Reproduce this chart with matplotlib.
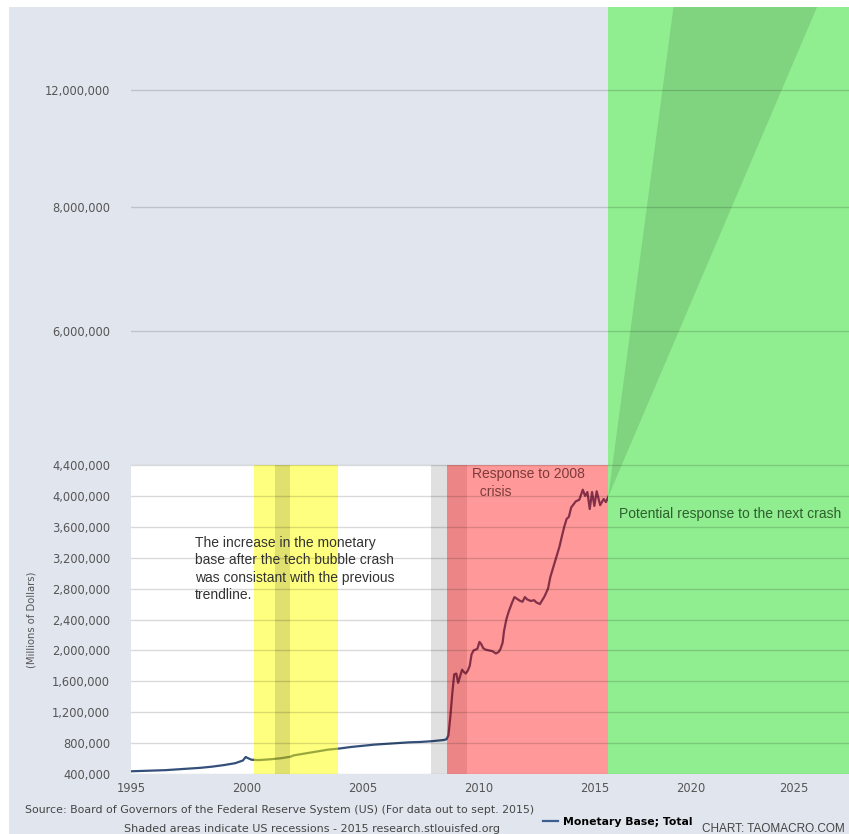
import numpy as np
import matplotlib
matplotlib.use("Agg")
import matplotlib.pyplot as plt
from matplotlib.patches import Rectangle, Polygon
from matplotlib.ticker import FixedLocator, FuncFormatter, NullLocator

# monetary base, millions of dollars
years = [1995.0, 1995.5, 1996.0, 1996.5, 1997.0, 1997.5, 1998.0, 1998.5, 1999.0, 1999.5,
         1999.83, 1999.95, 2000.05, 2000.2, 2000.5, 2001.0, 2001.5, 2001.9, 2002.0, 2002.5,
         2003.0, 2003.5, 2004.0, 2004.5, 2005.0, 2005.5, 2006.0, 2006.5, 2007.0, 2007.5,
         2008.0, 2008.5, 2008.62, 2008.7, 2008.78, 2008.87, 2008.95, 2009.04, 2009.12, 2009.2,
         2009.29, 2009.37, 2009.45, 2009.54, 2009.62, 2009.7, 2009.79, 2009.87, 2009.95, 2010.04,
         2010.12, 2010.2, 2010.3, 2010.45, 2010.6, 2010.75, 2010.87, 2010.95, 2011.04, 2011.1,
         2011.2, 2011.3, 2011.45, 2011.55, 2011.7, 2011.8, 2011.9, 2012.0, 2012.1, 2012.25,
         2012.4, 2012.5, 2012.65, 2012.75, 2012.85, 2013.0, 2013.1, 2013.2, 2013.3, 2013.4,
         2013.5, 2013.6, 2013.7, 2013.8, 2013.9, 2014.0, 2014.2, 2014.35, 2014.5, 2014.6,
         2014.7, 2014.8, 2014.9, 2015.0, 2015.1, 2015.25, 2015.4, 2015.5, 2015.6]
base = [435, 440, 445, 450, 460, 470, 480, 495, 515, 540,
        575, 620, 605, 585, 580, 590, 605, 625, 640, 665,
        690, 715, 730, 750, 765, 780, 790, 800, 810, 815,
        825, 840, 850, 900, 1130, 1450, 1690, 1700, 1580, 1660,
        1750, 1720, 1700, 1740, 1800, 1950, 2000, 2010, 2020, 2110,
        2080, 2030, 2010, 2000, 1990, 1960, 1980, 2020, 2100, 2250,
        2400, 2500, 2620, 2690, 2660, 2640, 2630, 2690, 2660, 2640,
        2650, 2620, 2600, 2650, 2700, 2800, 2950, 3050, 3150, 3250,
        3350, 3480, 3600, 3700, 3730, 3850, 3930, 3950, 4080, 4000,
        4050, 3830, 4050, 3870, 4060, 3880, 3960, 3920, 3990]
base = [b * 1000 for b in base]

# shaded periods
tech_response = (2000.3, 2003.92)
recessions = [(2001.2, 2001.88), (2007.93, 2009.5)]
crisis_response = (2008.62, 2015.6)
next_crash = (2015.6, 2027.7)
wedge_top = (2019.1, 2026.15)

y_ticks = [400000, 800000, 1200000, 1600000, 2000000, 2400000, 2800000, 3200000,
           3600000, 4000000, 4400000, 6000000, 8000000, 12000000]
x_ticks = [1995, 2000, 2005, 2010, 2015, 2020, 2025]

# the picture is pasted together, so both axes are piecewise
x_knots = [1995, 2015.6, 2020, 2025, 2027.7]
x_pix = [0, 477, 559, 662, 717.6]
y_knots = [400000, 4400000, 6000000, 8000000, 12000000, 14840000]
y_pix = [0, 309, 443, 567, 684, 767]

def fwd_x(v):
    return np.interp(v, x_knots, x_pix)

def inv_x(p):
    return np.interp(p, x_pix, x_knots)

def fwd_y(v):
    return np.interp(v, y_knots, y_pix)

def inv_y(p):
    return np.interp(p, y_pix, y_knots)

W, H = 849, 834
fig = plt.figure(figsize=(W / 100, H / 100), dpi=100)
fig.patch.set_facecolor("white")
fig.add_artist(Rectangle((9 / W, 0), 1, (H - 7) / H, transform=fig.transFigure,
                         facecolor="#e1e6ee", edgecolor="none", zorder=-5))

ax = fig.add_axes([131 / W, 60 / H, 718 / W, 767 / H])
ax.set_facecolor("none")
ax.set_xscale("function", functions=(fwd_x, inv_x))
ax.set_yscale("function", functions=(fwd_y, inv_y))
ax.set_xlim(x_knots[0], x_knots[-1])
ax.set_ylim(y_knots[0], y_knots[-1])

lo, hi = 400000, 4400000
ax.fill_between([1995, crisis_response[1]], lo, hi, color="white", lw=0, zorder=0)
ax.plot(years, base, color="#34507a", lw=1.6, zorder=1.5)

ax.fill_between(tech_response, lo, hi, color="#ffff00", alpha=0.5, lw=0, zorder=2)
for r in recessions:
    ax.fill_between(r, lo, hi, color="black", alpha=0.12, lw=0, zorder=2)
ax.fill_between(crisis_response, lo, hi, color="#ff0000", alpha=0.4, lw=0, zorder=2)
ax.fill_between(next_crash, lo, y_knots[-1], color="#90ee90", lw=0, zorder=2)
ax.add_patch(Polygon([(next_crash[0], base[-1]), (wedge_top[0], y_knots[-1]),
                      (wedge_top[1], y_knots[-1])], closed=True,
                     facecolor="#80d480", edgecolor="none", zorder=2.1))

ax.yaxis.set_major_locator(FixedLocator(y_ticks))
ax.yaxis.set_minor_locator(NullLocator())
ax.yaxis.set_major_formatter(FuncFormatter(lambda v, p: f"{v:,.0f}"))
ax.xaxis.set_major_locator(FixedLocator(x_ticks))
ax.xaxis.set_minor_locator(NullLocator())
ax.xaxis.set_major_formatter(FuncFormatter(lambda v, p: f"{v:.0f}"))
ax.tick_params(axis="y", length=0, pad=15, labelsize=8.3, labelcolor="#555555")
ax.tick_params(axis="x", length=0, pad=6, labelsize=8.3, labelcolor="#555555")
ax.set_axisbelow(False)
ax.grid(True, axis="y", color="black", alpha=0.15, lw=1)
for s in ax.spines.values():
    s.set_visible(False)

ax.set_ylabel("(Millions of Dollars)", fontsize=7.2, color="#555555")
ax.yaxis.set_label_coords(-94 / 718, (774 - 620) / 767)

ann = dict(family="Liberation Sans", fontsize=10, va="top", ha="left", zorder=3, linespacing=1.3)
ax.text(1997.75, 3480000, "The increase in the monetary\nbase after the tech bubble crash\n"
        "was consistant with the previous\ntrendline.", color="#333333", **ann)
ax.text(2009.7, 4370000, "Response to 2008\n  crisis", color="#7d3a3a", **ann)
ax.text(2016.2, 3860000, "Potential response to the next crash", color="#2f5e2f", **ann)

fig.text(280 / W, 1 - 810 / H,
         "Source: Board of Governors of the Federal Reserve System (US) (For data out to sept. 2015)",
         ha="center", va="center", fontsize=7.9, color="#444444")
fig.text(312 / W, 1 - 829 / H,
         "Shaded areas indicate US recessions - 2015 research.stlouisfed.org",
         ha="center", va="center", fontsize=8, color="#444444")

fig.legend([plt.Line2D([], [], color="#3d5f8f", lw=1.6)], ["Monetary Base; Total"],
           loc="center left", bbox_to_anchor=(538 / W, 1 - 822 / H), frameon=False,
           handlelength=1.3, handletextpad=0.5, borderpad=0,
           prop={"weight": "bold", "size": 7.8})
fig.text(845 / W, 1 - 829 / H, "CHART: TAOMACRO.COM", ha="right", va="center",
         family="Liberation Sans", fontsize=8.5, color="#444444")

fig.savefig("out.png", dpi=100)
